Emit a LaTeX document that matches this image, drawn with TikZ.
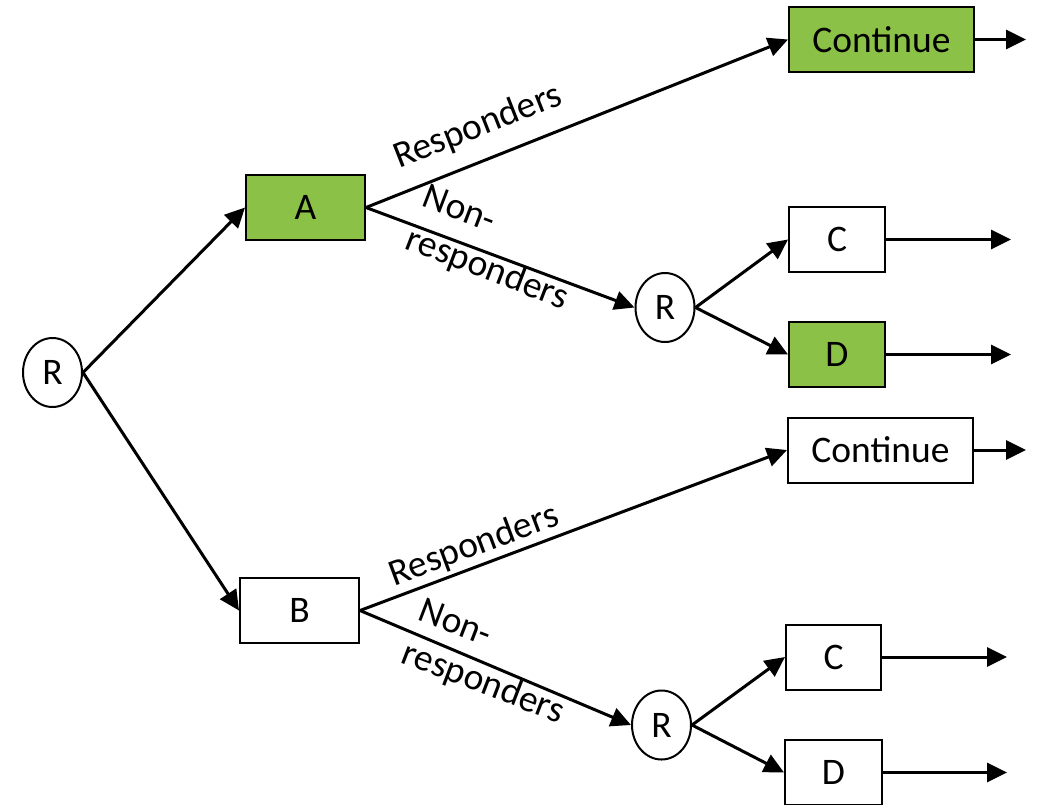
\documentclass[tikz,border=0pt]{standalone}
\usepackage{fontspec}
\setmainfont{Carlito}
\usetikzlibrary{arrows.meta,shapes.geometric}
\definecolor{armgreen}{RGB}{139,193,71}
\begin{document}
\begin{tikzpicture}[x=1pt,y=-1pt,
  every node/.style={font=\fontsize{37.5}{40}\selectfont},
  stepbox/.style={draw, line width=2pt, rectangle, inner sep=0pt, minimum height=65pt},
  rnode/.style={draw, line width=2pt, ellipse, inner sep=0pt, minimum width=59pt, minimum height=69pt},
  link/.style={line width=3pt, -{Triangle[length=20pt,width=19pt]}},
  lbl/.style={align=left, inner sep=0pt, font=\fontsize{37.5}{46}\selectfont}]
\useasboundingbox (0,0) rectangle (1041,804);

% randomisation points
\node[rnode] (R1) at (52.5,372.5) {R};
\node[rnode] (R2) at (665,307.5) {R};
\node[rnode] (R3) at (661.5,725) {R};

% first-stage treatments
\node[stepbox, fill=armgreen, minimum width=119pt] (A) at (305.5,207.5) {A};
\node[stepbox, minimum width=119pt] (B) at (299.5,610.5) {B};

% second-stage treatments
\node[stepbox, fill=armgreen, minimum width=185pt] (CA) at (881.5,39.5) {Continue};
\node[stepbox, minimum width=96pt] (C1) at (837,239.5) {C};
\node[stepbox, fill=armgreen, minimum width=96pt] (D1) at (837,354.5) {D};
\node[stepbox, minimum width=185pt] (CB) at (880.5,450) {Continue};
\node[stepbox, minimum width=95pt] (C2) at (833.5,657) {C};
\node[stepbox, minimum width=97pt] (D2) at (833.5,772.5) {D};

% open ends
\coordinate (eCA) at (1026,39.5);
\coordinate (eC1) at (1011,239.5);
\coordinate (eD1) at (1011,354.5);
\coordinate (eCB) at (1026,450);
\coordinate (eC2) at (1007,657);
\coordinate (eD2) at (1007,772.5);

% connectors
\draw[link] (R1.east) -- (A.west);
\draw[link] (R1.east) -- (B.west);
\draw[link] (A.east) -- (CA.west);
\draw[link] (A.east) -- (R2.west);
\draw[link] (R2.east) -- (C1.west);
\draw[link] (R2.east) -- (D1.west);
\draw[link] (B.east) -- (CB.west);
\draw[link] (B.east) -- (R3.west);
\draw[link] (R3.east) -- (C2.west);
\draw[link] (R3.east) -- (D2.west);
\draw[link] (CA.east) -- (eCA);
\draw[link] (C1.east) -- (eC1);
\draw[link] (D1.east) -- (eD1);
\draw[link] (CB.east) -- (eCB);
\draw[link] (C2.east) -- (eC2);
\draw[link] (D2.east) -- (eD2);

% branch labels
\node[lbl, rotate=21.5] (rA) at (478,127) {Responders};
\node[lbl, rotate=-21] (nA) at (495,249) {Non-\\responders};
\node[lbl, rotate=20.4] (rB) at (474,546) {Responders};
\node[lbl, rotate=-21] (nB) at (491,663) {Non-\\responders};
\end{tikzpicture}
\end{document}
